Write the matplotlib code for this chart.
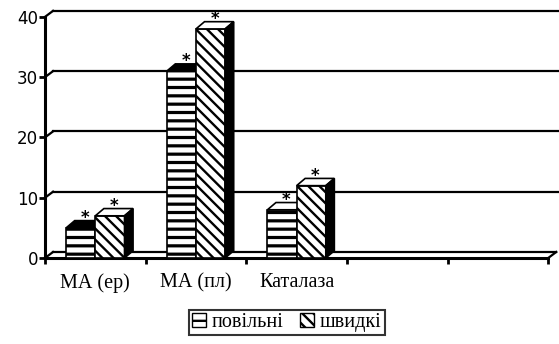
import matplotlib.pyplot as plt
import matplotlib.patches as mpatches
from matplotlib.patches import Polygon
import numpy as np

categories = ['МА (ер)', 'МА (пл)', 'Каталаза']
slow_vals  = [5.0, 31.0, 8.0]      # повільні
fast_vals  = [7.0, 38.0, 12.0]     # швидкі
stars      = ['*', '*', '*']
yticks     = [0, 10, 20, 30, 40]
n_slots    = 5                      # axis has room for 5 categories, 2 empty

plt.rcParams['hatch.linewidth'] = 1.7

fig = plt.figure(figsize=(5.59, 3.44), dpi=100)
ax = fig.add_axes([0.0805, 0.25, 0.92, 0.722])
ax.set_xlim(0, n_slots + 0.11)
ax.set_ylim(0, 41.2)
for s in ax.spines.values():
    s.set_visible(False)

# wall offset (3d look) and bar depth
wx, wy = 0.08, 1.0
bx, by = 0.085, 1.2
lw = 1.6

HAS_HLW = hasattr(mpatches.Patch, 'set_hatch_linewidth')


def hatch_lw(p, v):
    if HAS_HLW:
        p.set_hatch_linewidth(v)


# back wall gridlines + left wall diagonals
for v in yticks:
    ax.plot([0, wx], [v, v + wy], color='black', lw=lw, clip_on=False)
    if v > 0:
        ax.plot([wx, n_slots + 0.2], [v + wy, v + wy], color='black', lw=lw, clip_on=False)
# floor
ax.plot([wx, n_slots + wx], [wy, wy], color='black', lw=lw, clip_on=False)
ax.plot([n_slots, n_slots + wx], [0, wy], color='black', lw=lw, clip_on=False)
# front axes
ax.plot([0, 0], [0, 40], color='black', lw=2.2, clip_on=False)
ax.plot([0, n_slots], [0, 0], color='black', lw=2.2, clip_on=False)

x = np.arange(len(categories))
w = 0.29
x1 = x + 0.21
x2 = x + 0.50

top_cols = ['black', 'black', 'white']
for i in range(len(categories)):
    h1, h2 = slow_vals[i], fast_vals[i]
    # slow bar
    b1 = ax.bar(x1[i], h1, width=w, align='edge', facecolor='white', edgecolor='black',
                hatch='--', linewidth=1.2, zorder=3)
    for p in b1:
        hatch_lw(p, 2.3)
    ax.add_patch(Polygon([(x1[i], h1), (x1[i] + w, h1), (x1[i] + w + bx, h1 + by), (x1[i] + bx, h1 + by)],
                         closed=True, facecolor=top_cols[i], edgecolor='black', lw=1.2, zorder=3))
    # fast bar
    b2 = ax.bar(x2[i], h2, width=w, align='edge', facecolor='white', edgecolor='black',
                hatch='\\\\\\', linewidth=1.2, zorder=4)
    for p in b2:
        hatch_lw(p, 1.7)
    ax.add_patch(Polygon([(x2[i], h2), (x2[i] + w, h2), (x2[i] + w + bx, h2 + by), (x2[i] + bx, h2 + by)],
                         closed=True, facecolor='white', edgecolor='black', lw=1.2, zorder=4))
    ax.add_patch(Polygon([(x2[i] + w, 0), (x2[i] + w + bx, by), (x2[i] + w + bx, h2 + by), (x2[i] + w, h2)],
                         closed=True, facecolor='black', edgecolor='black', lw=1.2, zorder=4))
    ax.text(x1[i] + w / 2 + bx / 2, h1 + 1.6, stars[i], ha='center', va='center',
            fontsize=12, fontweight='bold', zorder=5)
    ax.text(x2[i] + w / 2 + bx / 2, h2 + 1.6, stars[i], ha='center', va='center',
            fontsize=12, fontweight='bold', zorder=5)

ax.set_yticks(yticks)
ax.set_yticklabels([str(v) for v in yticks], fontsize=12, family='DejaVu Sans')
ax.tick_params(axis='y', length=4, width=2, pad=1)
ax.set_xticks(range(0, n_slots + 1))
ax.set_xticklabels([''] * (n_slots + 1))
ax.tick_params(axis='x', which='major', length=4, width=2)
ax.set_xticks(x + 0.5, minor=True)
ax.set_xticklabels(categories, minor=True, fontsize=14.5, family='Liberation Serif')
ax.tick_params(axis='x', which='minor', length=0, pad=11)

h_slow = mpatches.Patch(facecolor='white', edgecolor='black', hatch='--', label='повільні')
h_fast = mpatches.Patch(facecolor='white', edgecolor='black', hatch='\\\\\\', label='швидкі')
hatch_lw(h_slow, 2.3)
leg = ax.legend(handles=[h_slow, h_fast], loc='upper center', bbox_to_anchor=(0.513, 0.1),
                bbox_transform=fig.transFigure, ncol=2, frameon=True, fancybox=False,
                prop={'family': 'Liberation Serif', 'size': 14.5}, handlelength=0.7,
                handleheight=0.7, handletextpad=0.3, columnspacing=0.8, borderpad=0.15,
                borderaxespad=0)
leg.get_frame().set_edgecolor('black')
leg.get_frame().set_linewidth(1.5)

fig.savefig('out.png', dpi=100)
